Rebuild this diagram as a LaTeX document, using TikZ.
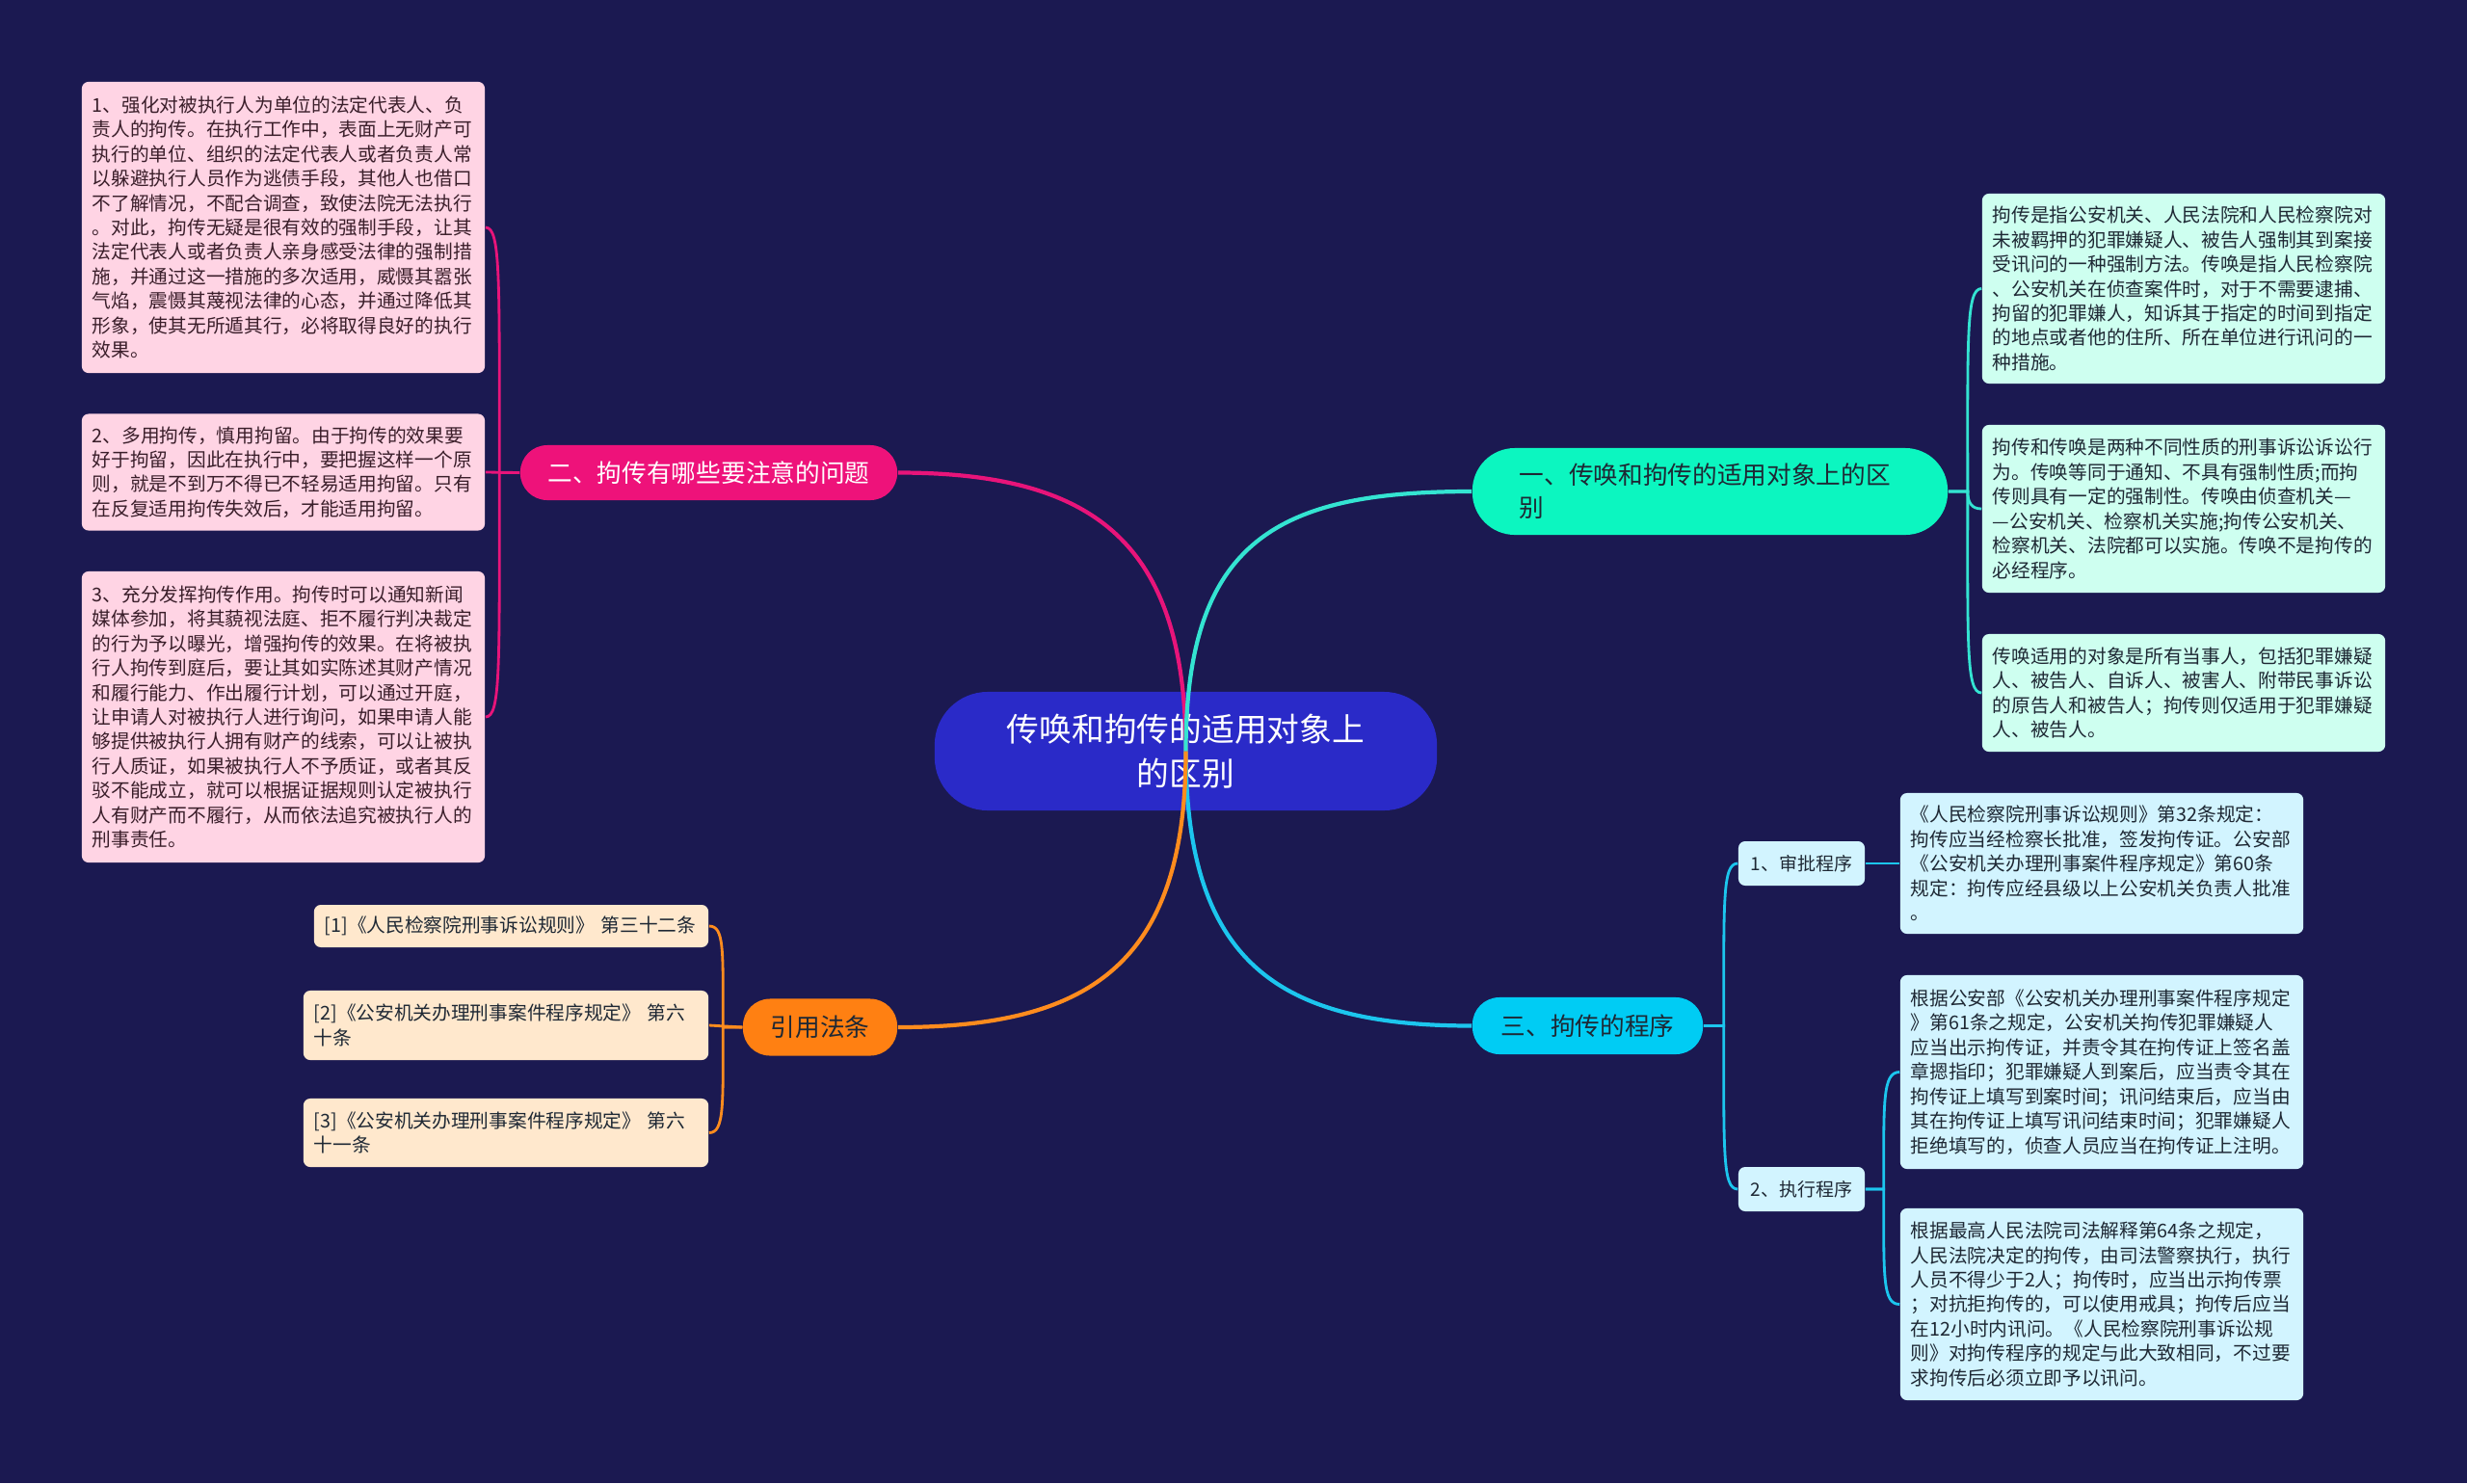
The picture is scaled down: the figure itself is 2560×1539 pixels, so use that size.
\documentclass[tikz,border=0pt]{standalone}
\usepackage{fontspec}
\setmainfont{Noto Sans CJK SC}
\usepackage{tikz}

\definecolor{bgnavy}{RGB}{27,25,81}
\definecolor{rootblue}{RGB}{42,42,200}
\definecolor{mintfill}{RGB}{12,246,192}
\definecolor{pinkfill}{RGB}{238,18,122}
\definecolor{cyanfill}{RGB}{0,204,244}
\definecolor{orangefill}{RGB}{255,128,18}
\definecolor{pinkleaf}{RGB}{255,212,228}
\definecolor{mintleaf}{RGB}{206,255,240}
\definecolor{blueleaf}{RGB}{210,244,255}
\definecolor{peachleaf}{RGB}{255,232,205}
\definecolor{pinkline}{RGB}{232,20,122}
\definecolor{tealline}{RGB}{52,228,210}
\definecolor{cyanline}{RGB}{28,198,238}
\definecolor{orangeline}{RGB}{255,140,30}
\definecolor{darktext}{RGB}{30,40,52}

\begin{document}
\begin{tikzpicture}[x=0.01cm,y=-0.01cm,
    root/.style ={rounded corners=0.55cm, fill=rootblue, text=white, align=center,
      minimum width=5.21cm, minimum height=1.23cm, font=\fontsize{9.6}{13}\selectfont},
    branch/.style ={rounded corners=0.28cm, minimum height=0.58cm, text=darktext,
      font=\fontsize{7.3}{9.7}\selectfont},
    leaf/.style ={rounded corners=0.07cm, align=left, text width=3.96cm, inner xsep=0.11cm,
      inner ysep=0.05cm, text=darktext, font=\fontsize{5.6}{7.23}\selectfont},
    subbox/.style ={rounded corners=0.07cm, fill=blueleaf, minimum width=1.31cm, minimum height=0.46cm,
      inner xsep=0.05cm, text=darktext, font=\fontsize{5.4}{7}\selectfont},
    mainline/.style ={line width=1.2pt},
    subline/.style ={line width=0.8pt}]

   \fill[bgnavy] (0,0) rectangle (2560,1539);
   \useasboundingbox (0,0) rectangle (2560,1539);

   \node[root] (root) at (1230.5,779.5) {传唤和拘传的适用对象上\\的区别};

   \node[branch, fill=mintfill, rounded corners=0.44cm, minimum width=4.93cm, minimum height=0.9cm,
     text width=3.95cm, align=left] (B1) at (1774.5,510) {一、传唤和拘传的适用对象上的区\\别};
   \node[branch, fill=pinkfill, text=white, minimum width=3.91cm, minimum height=0.57cm] (B2) at (735.5,490.5) {二、拘传有哪些要注意的问题};
   \node[branch, fill=cyanfill, minimum width=2.39cm, minimum height=0.59cm] (B3) at (1647.5,1064.5) {三、拘传的程序};
   \node[branch, fill=orangefill, minimum width=1.6cm, minimum height=0.59cm] (B4) at (851,1066) {引用法条};

   \node[leaf, fill=pinkleaf, text={rgb,255:red,58;green,30;blue,42}, minimum height=3.02cm] (L1) at (294,236) {1、强化对被执行人为单位的法定代表人、负\\责人的拘传。在执行工作中，表面上无财产可\\执行的单位、组织的法定代表人或者负责人常\\以躲避执行人员作为逃债手段，其他人也借口\\不了解情况，不配合调查，致使法院无法执行\\。对此，拘传无疑是很有效的强制手段，让其\\法定代表人或者负责人亲身感受法律的强制措\\施，并通过这一措施的多次适用，威慑其嚣张\\气焰，震慑其蔑视法律的心态，并通过降低其\\形象，使其无所遁其行，必将取得良好的执行\\效果。};
   \node[leaf, fill=pinkleaf, text={rgb,255:red,58;green,30;blue,42}, minimum height=1.21cm] (L2) at (294,490) {2、多用拘传，慎用拘留。由于拘传的效果要\\好于拘留，因此在执行中，要把握这样一个原\\则，就是不到万不得已不轻易适用拘留。只有\\在反复适用拘传失效后，才能适用拘留。};
   \node[leaf, fill=pinkleaf, text={rgb,255:red,58;green,30;blue,42}, minimum height=3.02cm] (L3) at (294,744) {3、充分发挥拘传作用。拘传时可以通知新闻\\媒体参加，将其藐视法庭、拒不履行判决裁定\\的行为予以曝光，增强拘传的效果。在将被执\\行人拘传到庭后，要让其如实陈述其财产情况\\和履行能力、作出履行计划，可以通过开庭，\\让申请人对被执行人进行询问，如果申请人能\\够提供被执行人拥有财产的线索，可以让被执\\行人质证，如果被执行人不予质证，或者其反\\驳不能成立，就可以根据证据规则认定被执行\\人有财产而不履行，从而依法追究被执行人的\\刑事责任。};

   \node[leaf, fill=mintleaf, minimum height=1.97cm] (R1) at (2266,299.5) {拘传是指公安机关、人民法院和人民检察院对\\未被羁押的犯罪嫌疑人、被告人强制其到案接\\受讯问的一种强制方法。传唤是指人民检察院\\、公安机关在侦查案件时，对于不需要逮捕、\\拘留的犯罪嫌人，知诉其于指定的时间到指定\\的地点或者他的住所、所在单位进行讯问的一\\种措施。};
   \node[leaf, fill=mintleaf, minimum height=1.74cm] (R2) at (2266,528) {拘传和传唤是两种不同性质的刑事诉讼诉讼行\\为。传唤等同于通知、不具有强制性质;而拘\\传则具有一定的强制性。传唤由侦查机关—\\—公安机关、检察机关实施;拘传公安机关、\\检察机关、法院都可以实施。传唤不是拘传的\\必经程序。};
   \node[leaf, fill=mintleaf, minimum height=1.22cm] (R3) at (2266,719) {传唤适用的对象是所有当事人，包括犯罪嫌疑\\人、被告人、自诉人、被害人、附带民事诉讼\\的原告人和被告人；拘传则仅适用于犯罪嫌疑\\人、被告人。};

   \node[subbox] (S1) at (1869.5,896) {1、审批程序};
   \node[subbox] (S2) at (1869.5,1234) {2、执行程序};

   \node[leaf, fill=blueleaf, minimum height=1.46cm] (P1) at (2181,896) {《人民检察院刑事诉讼规则》第32条规定：\\拘传应当经检察长批准，签发拘传证。公安部\\《公安机关办理刑事案件程序规定》第60条\\规定：拘传应经县级以上公安机关负责人批准\\。};
   \node[leaf, fill=blueleaf, minimum height=2.01cm] (P2) at (2181,1112.5) {根据公安部《公安机关办理刑事案件程序规定\\》第61条之规定，公安机关拘传犯罪嫌疑人\\应当出示拘传证，并责令其在拘传证上签名盖\\章摁指印；犯罪嫌疑人到案后，应当责令其在\\拘传证上填写到案时间；讯问结束后，应当由\\其在拘传证上填写讯问结束时间；犯罪嫌疑人\\拒绝填写的，侦查人员应当在拘传证上注明。};
   \node[leaf, fill=blueleaf, minimum height=1.99cm] (P3) at (2181,1353.5) {根据最高人民法院司法解释第64条之规定，\\人民法院决定的拘传，由司法警察执行，执行\\人员不得少于2人；拘传时，应当出示拘传票\\；对抗拒拘传的，可以使用戒具；拘传后应当\\在12小时内讯问。《人民检察院刑事诉讼规\\则》对拘传程序的规定与此大致相同，不过要\\求拘传后必须立即予以讯问。};

   \node[leaf, fill=peachleaf, text width=3.87cm, minimum height=0.44cm] (C1) at (530.5,961) {[1]《人民检察院刑事诉讼规则》 第三十二条};
   \node[leaf, fill=peachleaf, text width=3.98cm, minimum height=0.72cm] (C2) at (525,1064) {[2]《公安机关办理刑事案件程序规定》 第六\\十条};
   \node[leaf, fill=peachleaf, text width=3.98cm, minimum height=0.71cm] (C3) at (525,1175.5) {[3]《公安机关办理刑事案件程序规定》 第六\\十一条};

   \draw[mainline, pinkline] (root.center) .. controls +(0,-220) and +(200,0) .. (B2.east);
   \draw[mainline, tealline] (root.center) .. controls +(0,-220) and +(-200,0) .. (B1.west);
   \draw[mainline, cyanline] (root.center) .. controls +(0,220) and +(-200,0) .. (B3.west);
   \draw[mainline, orangeline] (root.center) .. controls +(0,220) and +(200,0) .. (B4.east);

   \draw[subline, pinkline] (B2.west) -- ++(-21,0) .. controls +(0,-200) and +(16,0) .. (L1.east);
   \draw[subline, pinkline] (B2.west) -- (L2.east);
   \draw[subline, pinkline] (B2.west) -- ++(-21,0) .. controls +(0,200) and +(16,0) .. (L3.east);

   \draw[subline, tealline] (B1.east) -- ++(20,0) .. controls +(0,-160) and +(-16,0) .. (R1.west);
   \draw[subline, tealline] (B1.east) -- ++(20,0) .. controls +(0,12) and +(-10,0) .. (R2.west);
   \draw[subline, tealline] (B1.east) -- ++(20,0) .. controls +(0,160) and +(-16,0) .. (R3.west);

   \draw[subline, cyanline] (B3.east) -- ++(21,0) .. controls +(0,-130) and +(-16,0) .. (S1.west);
   \draw[subline, cyanline] (B3.east) -- ++(21,0) .. controls +(0,130) and +(-16,0) .. (S2.west);
   \draw[subline, cyanline] (S1.east) -- (P1.west);
   \draw[subline, cyanline] (S2.east) -- ++(19,0) .. controls +(0,-90) and +(-18,0) .. (P2.west);
   \draw[subline, cyanline] (S2.east) -- ++(19,0) .. controls +(0,90) and +(-18,0) .. (P3.west);

   \draw[subline, orangeline] (B4.west) -- ++(-20,0) .. controls +(0,-80) and +(16,0) .. (C1.east);
   \draw[subline, orangeline] (B4.west) -- (C2.east);
   \draw[subline, orangeline] (B4.west) -- ++(-20,0) .. controls +(0,80) and +(16,0) .. (C3.east);
 \end{tikzpicture}
\end{document}
